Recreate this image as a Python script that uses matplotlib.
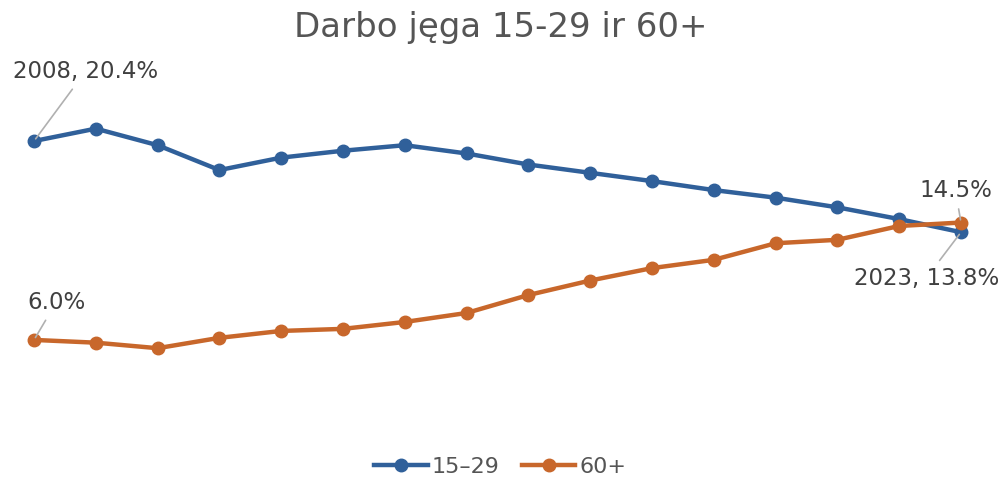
import matplotlib.pyplot as plt

# Duomenys
years = list(range(2008, 2024))
young = [20.4, 21.3, 20.1, 18.3, 19.2, 19.7, 20.1, 19.5, 18.7, 18.1, 17.5, 16.85, 16.3, 15.6, 14.75, 13.8]
older = [6.0, 5.8, 5.4, 6.15, 6.65, 6.8, 7.3, 7.95, 9.25, 10.3, 11.2, 11.8, 13.0, 13.25, 14.25, 14.5]

blue = "#30609a"
orange = "#c8672b"
grey = "#b0b0b0"
txt = "#404040"

fig = plt.figure(figsize=(10.01, 4.8), dpi=100)
ax = fig.add_axes([34 / 1001, 80 / 480, 927 / 1001, 300 / 480])
ax.set_xlim(2008, 2023)
ax.set_ylim(6.0 - 60 / 13.79, 20.4 + 41 / 13.79)

ax.plot(years, young, color=blue, lw=3.2, marker="o", ms=9, label="15\u201329", clip_on=False, zorder=3)
ax.plot(years, older, color=orange, lw=3.2, marker="o", ms=9, label="60+", clip_on=False, zorder=3)

ax.axis("off")

def note(x, y, s, dx, dy):
    ax.annotate(s, xy=(x, y), xytext=(dx, dy), textcoords="offset points",
                ha="center", va="center", fontsize=16.5, color=txt,
                arrowprops=dict(arrowstyle="-", color=grey, lw=1.2, shrinkA=3, shrinkB=2),
                annotation_clip=False, zorder=4)

note(years[0], young[0], f"{years[0]}, {young[0]:.1f}%", 37, 50)
note(years[0], older[0], f"{older[0]:.1f}%", 16, 27)
note(years[-1], older[-1], f"{older[-1]:.1f}%", -4, 23)
note(years[-1], young[-1], f"{years[-1]}, {young[-1]:.1f}%", -25, -33)

fig.suptitle("Darbo jęga 15-29 ir 60+", y=1 - 28 / 480, va="center", fontsize=24.5, color="#555555")

fig.legend(loc="center", bbox_to_anchor=(0.5, 1 - 467 / 480), ncol=2, frameon=False,
           fontsize=16, labelcolor="#555555", handlelength=2.4, columnspacing=1.0, handletextpad=0.2)

fig.savefig("out.png", dpi=100)
